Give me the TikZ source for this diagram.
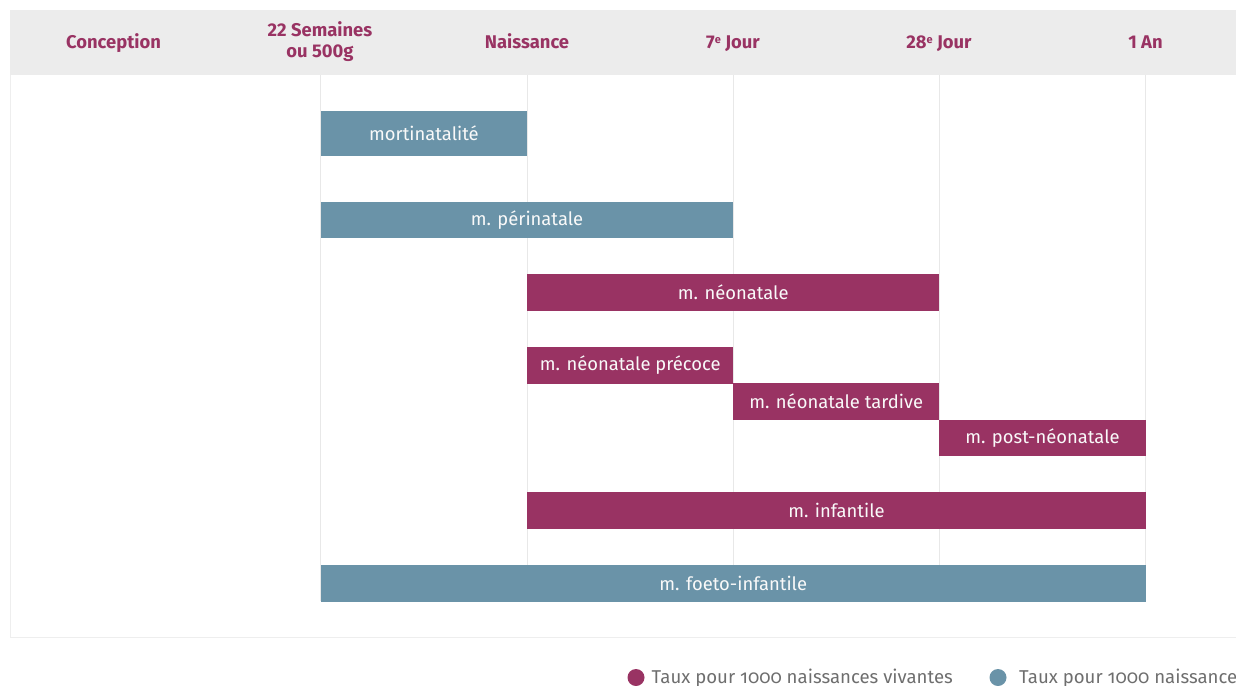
\documentclass[tikz,border=0pt]{standalone}
\usepackage{fontspec}
\setmainfont{Fira Sans}
\newfontfamily\legendfont[Numbers=OldStyle]{Fira Sans}
\definecolor{headbg}{HTML}{ECECEC}
\definecolor{gridc}{HTML}{E8E8E8}
\definecolor{panelc}{HTML}{EEEEEE}
\definecolor{plum}{HTML}{993363}
\definecolor{steel}{HTML}{6A93A8}
\definecolor{legtext}{HTML}{6E6E6E}
\newcommand{\ordsup}{\raisebox{0.55ex}{\fontsize{11}{11}\selectfont e}}
\begin{document}
\begin{tikzpicture}[x=1pt,y=-1pt,
  headlabel/.style={font=\bfseries\fontsize{18.4}{21}\selectfont, text=plum, align=center, inner sep=0},
  headbase/.style={headlabel, anchor=base},
  bar/.style={anchor=north west, inner sep=0, minimum height=36.5pt, text=white!95!gray,
              font=\fontsize{18.4}{21}\selectfont},
  live/.style={bar, fill=plum},
  total/.style={bar, fill=steel},
  gridline/.style={draw=gridc, line width=1pt},
  legendlabel/.style={anchor=west, inner sep=0, text=legtext, font=\legendfont\fontsize{18.6}{21}\selectfont}
]
\useasboundingbox (0,0) rectangle (1236,685);
\clip (0,0) rectangle (1236,685);

% header band and panel frame
\fill[headbg] (10,10) rectangle (1240,75);
\draw[panelc, line width=1.3pt] (1240,637.5) -- (10.5,637.5) -- (10.5,75);

% vertical milestones
\foreach \x in {320.5,527,733,939,1145.5}
  \draw[gridline] (\x,75) -- (\x,601);

% milestone labels
\node[headbase] (conc) at (113.5,48.5) {Conception};
\node[headlabel] (sem)  at (320,42) {22 Semaines\\ou 500g};
\node[headbase] (nais) at (527,48.5) {Naissance};
\node[headbase] (j7)   at (733,48.5) {7\ordsup\ Jour};
\node[headbase] (j28)  at (939,48.5) {28\ordsup\ Jour};
\node[headbase] (an)   at (1145.5,48.5) {1 An};

% mortality periods
\node[total, minimum width=206.5pt, minimum height=45pt] (mort) at (320.5,111) {mortinatalité};
\node[total, minimum width=412.5pt] (peri) at (320.5,201.5) {m. périnatale};
\node[live,  minimum width=412pt]   (neo)  at (527,274) {m. néonatale};
\node[live,  minimum width=206pt]   (prec) at (527,347) {m. néonatale précoce};
\node[live,  minimum width=206pt]   (tard) at (733,383) {m. néonatale tardive};
\node[live,  minimum width=206.5pt] (post) at (939,419.5) {m. post-néonatale};
\node[live,  minimum width=618.5pt] (inf)  at (527,492) {m. infantile};
\node[total, minimum width=825pt]   (foet) at (320.5,565) {m. foeto-infantile};

% legend
\fill[plum] (636,677.5) circle (8.5pt);
\node[legendlabel] (leg1) at (651.5,678.5) {Taux pour 1000 naissances vivantes};
\fill[steel] (998,677.5) circle (8.5pt);
\node[legendlabel] (leg2) at (1019,678.5) {Taux pour 1000 naissances};
\end{tikzpicture}
\end{document}
